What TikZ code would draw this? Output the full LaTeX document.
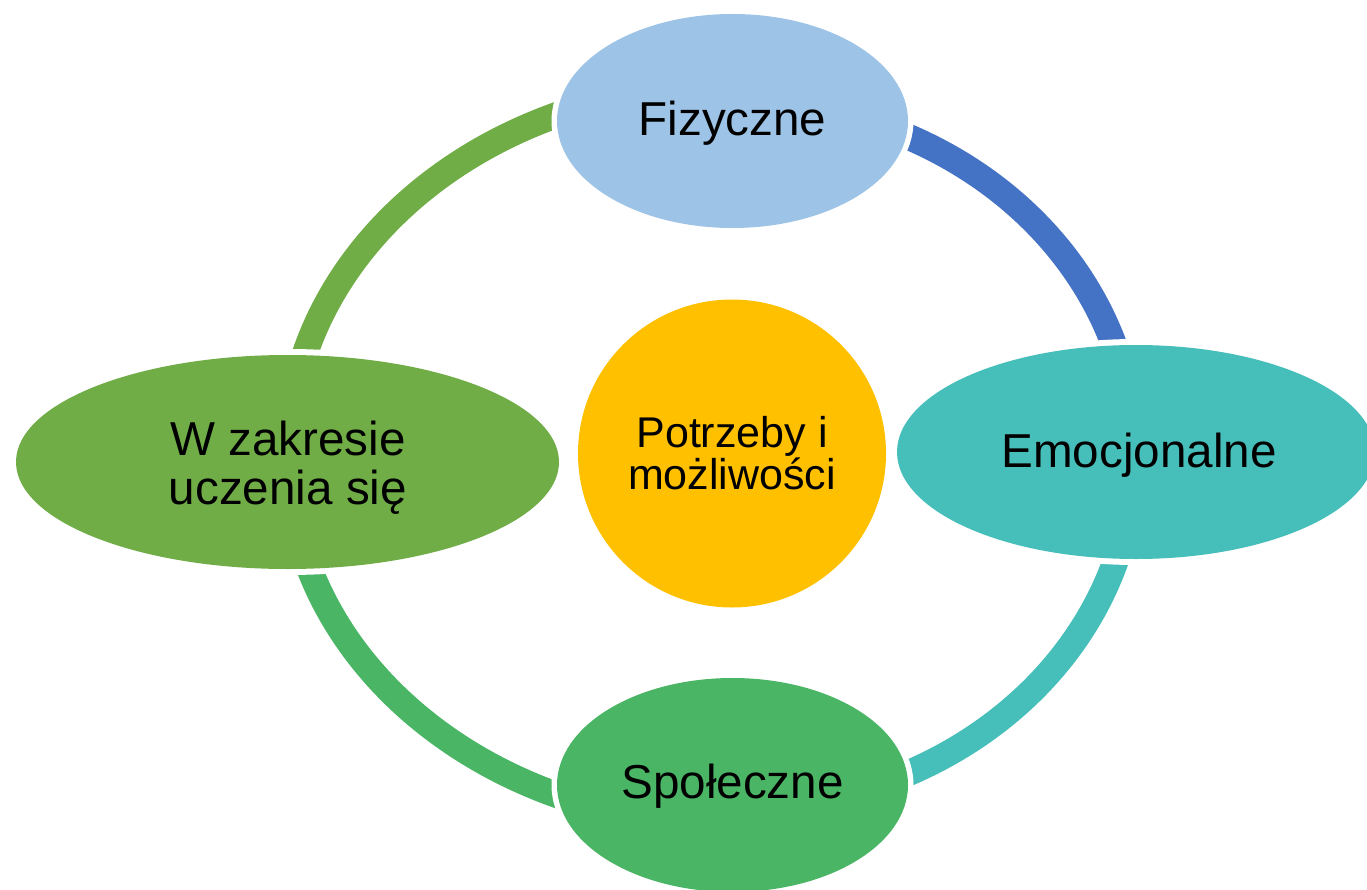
\documentclass[tikz,border=0pt]{standalone}
\usepackage{fontspec}
\setmainfont{Liberation Sans}
\usetikzlibrary{shapes.geometric}
\definecolor{cFiz}{HTML}{9DC3E6}
\definecolor{cBlue}{HTML}{4472C4}
\definecolor{cEmo}{HTML}{46BEB9}
\definecolor{cSpo}{HTML}{4AB565}
\definecolor{cUcz}{HTML}{70AD47}
\definecolor{cPot}{HTML}{FFC000}
\tikzset{
  ringarc/.style={line width=26pt, line cap=butt},
  maskfill/.style={fill=white},
  bubble/.style={ellipse, inner sep=0pt, text=black, align=center,
    font=\fontsize{47.6}{49}\selectfont},
  label text/.style={inner sep=0pt, text=black, align=center,
    font=\fontsize{47.6}{49}\selectfont},
}
\begin{document}
\begin{tikzpicture}[x=1pt,y=-1pt]
\useasboundingbox (0,0) rectangle (1367,890);
\clip (0,0) rectangle (1367,890);
% connecting arcs
\draw[ringarc, cBlue] (732,455) ++(-72:402 and 354) arc[start angle=-72, end angle=-12, x radius=402, y radius=354];
\draw[ringarc, cEmo] (732,455) ++(10:402 and 354) arc[start angle=10, end angle=72, x radius=402, y radius=354];
\draw[ringarc, cSpo] (732,455) ++(105:444 and 370) arc[start angle=105, end angle=170, x radius=444, y radius=370];
\draw[ringarc, cUcz] (732,455) ++(188:444 and 370) arc[start angle=188, end angle=255, x radius=444, y radius=370];
% white gaps around the bubbles
\fill[maskfill] (732.5,121) ellipse [x radius=181, y radius=113];
\fill[maskfill] (1136,452) ellipse [x radius=245, y radius=113];
\fill[maskfill] (732.5,785) ellipse [x radius=181, y radius=113];
\fill[maskfill] (287.5,462) ellipse [x radius=277, y radius=113];
% bubbles
\node[bubble, fill=cFiz, minimum width=351pt, minimum height=214pt] (fiz) at (732.5,121) {};
\node[label text] (fizt) at (732.5,123) {Fizyczne};
\node[bubble, fill=cEmo, minimum width=478pt, minimum height=214pt] (emo) at (1136,452) {};
\node[label text] (emot) at (1139,455) {Emocjonalne};
\node[bubble, fill=cSpo, minimum width=351pt, minimum height=214pt] (spo) at (732.5,785) {};
\node[label text] (spot) at (732.5,786) {Społeczne};
\node[bubble, fill=cUcz, minimum width=543pt, minimum height=214pt] (ucz) at (287.5,462) {};
\node[label text] (uczt) at (288,468) {W zakresie\\uczenia się};
\node[circle, fill=cPot, inner sep=0pt, minimum size=308pt, align=center, text=black,
  font=\fontsize{43}{42}\selectfont] (pot) at (732,453.5) {Potrzeby i\\możliwości};
\end{tikzpicture}
\end{document}
